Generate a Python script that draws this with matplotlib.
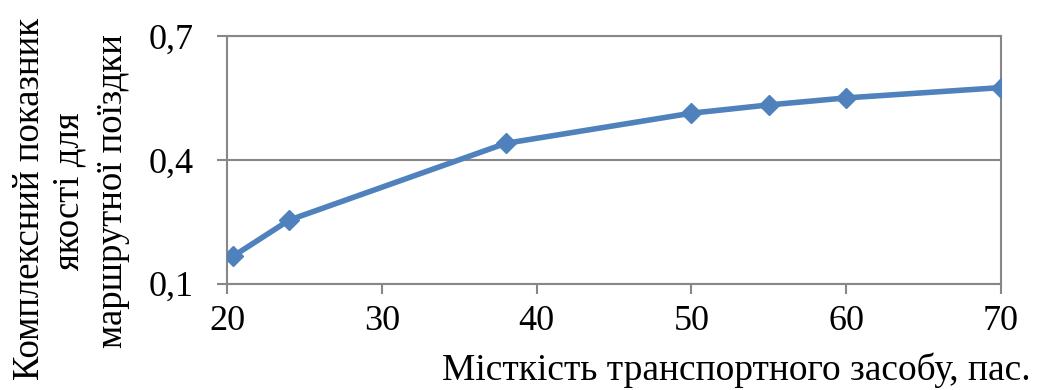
import matplotlib.pyplot as plt

# місткість транспортного засобу, пас.
capacity = [20.4, 24, 38, 50, 55, 60, 70]
# комплексний показник якості
quality = [0.167, 0.254, 0.440, 0.513, 0.533, 0.550, 0.575]

x_ticks = [20, 30, 40, 50, 60, 70]
y_ticks = [0.1, 0.4, 0.7]
y_tick_labels = ["0,1", "0,4", "0,7"]

LINE = "#4F81BD"
GREY = "#878787"

plt.rcParams['font.family'] = ['Liberation Serif', 'DejaVu Serif']

fig = plt.figure(figsize=(10.37, 3.9), dpi=100)
ax = fig.add_axes([0.2192, 0.2726, 0.7458, 0.6351])

ax.plot(capacity, quality, color=LINE, lw=4, marker='D', ms=10,
        solid_joinstyle='round', zorder=3)

ax.set_xlim(20, 70)
ax.set_ylim(0.1, 0.7)
ax.set_xticks(x_ticks)
ax.set_yticks(y_ticks)
ax.set_yticklabels(y_tick_labels)

ax.yaxis.grid(True, color=GREY, lw=1.5)
for s in ax.spines.values():
    s.set_color(GREY)
    s.set_linewidth(1.5)

ax.tick_params(axis='both', direction='out', length=7.5, width=1.5,
               color=GREY, labelsize=26, labelcolor='black')
ax.tick_params(axis='y', pad=17)
ax.tick_params(axis='x', pad=8)

fig.text(0.029, 0.49, "Комплексний показник", rotation=90,
         ha='center', va='center', fontsize=26.5)
fig.text(0.088, 0.51, "якості для\nмаршрутної поїздки", rotation=90,
         ha='center', va='center', fontsize=26.5, linespacing=1.35,
         multialignment='center')
fig.text(0.994, 0.05, "Місткість транспортного засобу, пас.",
         ha='right', va='center', fontsize=27)

fig.savefig("out.png", dpi=100)
